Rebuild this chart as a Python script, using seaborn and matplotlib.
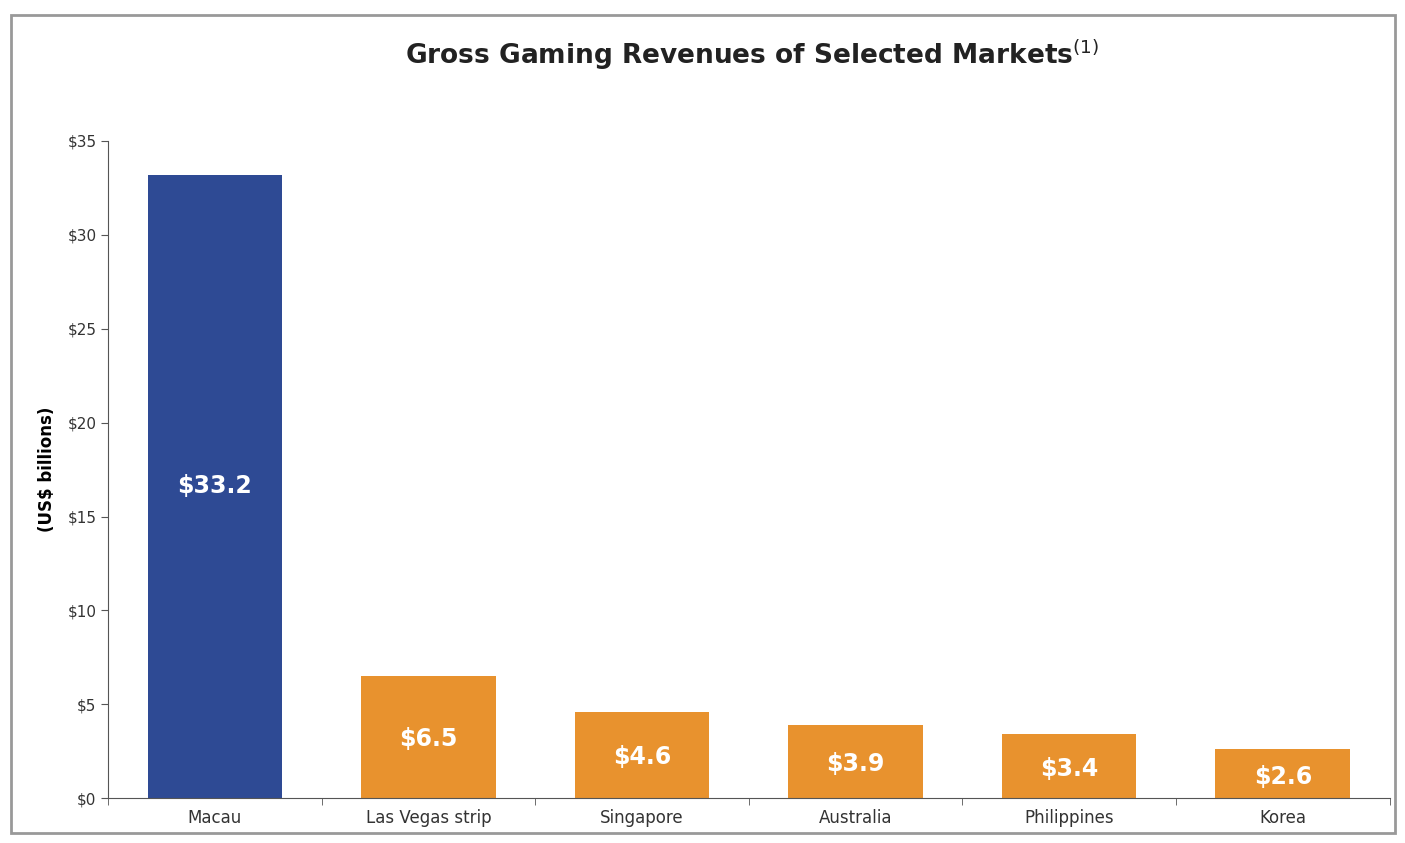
import pandas as pd
import numpy as np
import seaborn as sns
import matplotlib.pyplot as plt
from matplotlib.patches import Rectangle

markets = ["Macau", "Las Vegas strip", "Singapore", "Australia", "Philippines", "Korea"]
revenues = [33.2, 6.5, 4.6, 3.9, 3.4, 2.6]
bar_colors = ["#2E4A94", "#E8922E", "#E8922E", "#E8922E", "#E8922E", "#E8922E"]
y_ticks = [0, 5, 10, 15, 20, 25, 30, 35]

df = pd.DataFrame({"Market": markets, "Revenue": revenues})

fig = plt.figure(figsize=(14.05, 8.43), dpi=100)
ax = fig.add_axes([0.077, 0.053, 0.912, 0.78])
sns.barplot(data=df, x="Market", y="Revenue", hue="Market", palette=bar_colors,
            width=0.63, saturation=1, legend=False, ax=ax)

ax.set_ylim(0, 35)
ax.set_yticks(y_ticks)
ax.set_yticklabels([f"${t}" for t in y_ticks], fontsize=11, color="#333333")
ax.set_xlim(-0.5, len(markets) - 0.5)
ax.set_xticks(range(len(markets)))
ax.set_xticklabels(markets, fontsize=12, color="#333333")
ax.tick_params(axis="x", length=0, pad=8)
ax.set_xticks(np.arange(-0.5, len(markets)), minor=True)
ax.tick_params(axis="x", which="minor", length=5, color="#555555")
ax.tick_params(axis="y", length=5, color="#555555")
ax.set_xlabel("")
ax.set_ylabel("(US$ billions)", fontsize=12, fontweight="bold", labelpad=8)
for side in ["top", "right"]:
    ax.spines[side].set_visible(False)
ax.spines["left"].set_color("#555555")
ax.spines["bottom"].set_color("#555555")

for i, v in enumerate(revenues):
    ypos = v / 2 if i == 0 else v * 0.52 - 0.2
    if i == 0:
        ypos = 16.6
    ax.text(i, ypos, f"${v}", ha="center", va="center", color="white",
            fontsize=17, fontweight="bold")

fig.text(0.535, 0.935, "Gross Gaming Revenues of Selected Markets$^{(1)}$",
         ha="center", va="center", fontsize=19, fontweight="bold", color="#222222")

fig.patches.append(Rectangle((0.008, 0.012), 0.985, 0.97, transform=fig.transFigure,
                             fill=False, edgecolor="#999999", linewidth=2))

fig.savefig("out.png", dpi=100)
